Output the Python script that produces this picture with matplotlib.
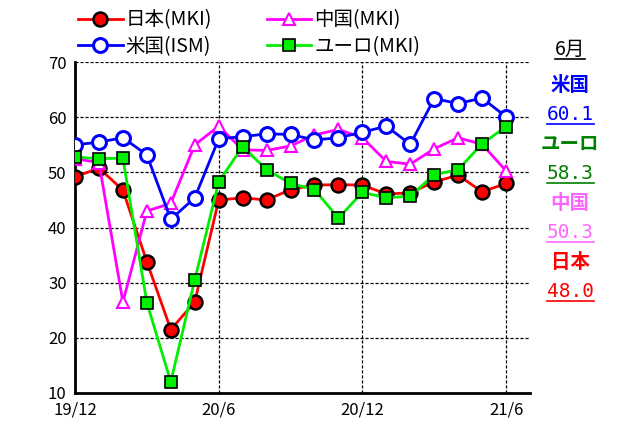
import matplotlib.pyplot as plt
from matplotlib.lines import Line2D

plt.rcParams['font.family'] = ['Noto Sans CJK JP', 'DejaVu Sans']

# services PMI, 19/12 .. 21/6 (monthly)
months = ["19/12", "20/1", "20/2", "20/3", "20/4", "20/5", "20/6", "20/7", "20/8", "20/9",
          "20/10", "20/11", "20/12", "21/1", "21/2", "21/3", "21/4", "21/5", "21/6"]
japan = [49.2, 50.8, 46.8, 33.8, 21.5, 26.5, 45.0, 45.4, 45.0, 46.9,
         47.7, 47.8, 47.7, 46.1, 46.3, 48.3, 49.5, 46.5, 48.0]
china = [52.5, 51.8, 26.5, 43.0, 44.4, 55.0, 58.4, 54.1, 54.0, 54.8,
         56.8, 57.8, 56.3, 52.0, 51.5, 54.3, 56.3, 55.1, 50.3]
usa = [55.0, 55.5, 56.3, 53.2, 41.5, 45.4, 56.1, 56.5, 57.0, 56.9,
       55.9, 56.3, 57.3, 58.4, 55.1, 63.4, 62.5, 63.5, 60.1]
euro = [52.8, 52.5, 52.6, 26.4, 12.0, 30.5, 48.3, 54.7, 50.5, 48.0,
        46.9, 41.7, 46.4, 45.4, 45.7, 49.6, 50.5, 55.2, 58.3]
tick_pos = [0, 6, 12, 18]
tick_labels = ["19/12", "20/6", "20/12", "21/6"]

side_labels = [("米国", "60.1", "#0000ff"), ("ユーロ", "58.3", "#008000"),
               ("中国", "50.3", "#ff66ff"), ("日本", "48.0", "#ff0000")]

x = list(range(len(months)))

fig = plt.figure(figsize=(6.25, 4.29), dpi=100)
ax = fig.add_axes([0.12, 0.084, 0.728, 0.771])

l_jp, = ax.plot(x, japan, '-o', color="#ff0000", lw=2, ms=10, mfc="#ff0000", mec="black", mew=1.8,
                label="日本(MKI)", zorder=3)
l_cn, = ax.plot(x, china, '-^', color="#ff00ff", lw=2, ms=9, mfc="white", mec="#ff00ff", mew=1.5,
                label="中国(MKI)", zorder=4)
l_us, = ax.plot(x, usa, '-o', color="#0000ff", lw=2, ms=10, mfc="white", mec="#0000ff", mew=2.2,
                label="米国(ISM)", zorder=5)
l_eu, = ax.plot(x, euro, '-s', color="#00ee00", lw=2, ms=8, mfc="#00ee00", mec="black", mew=1.2,
                label="ユーロ(MKI)", zorder=6)

ax.set_xlim(0, 19)
ax.set_ylim(10, 70)
ax.set_yticks([10, 20, 30, 40, 50, 60, 70])
ax.set_xticks(tick_pos)
ax.set_xticklabels(tick_labels)
ax.tick_params(length=0, labelsize=12, pad=6)
for s in ["top", "right"]:
    ax.spines[s].set_visible(False)
for s in ["left", "bottom"]:
    ax.spines[s].set_linewidth(2)
for yv in [20, 30, 40, 50, 60, 70]:
    ax.axhline(yv, color="black", lw=0.9, ls=(0, (2.5, 1.5)), zorder=1)
for xv in tick_pos[1:]:
    ax.axvline(xv, color="black", lw=0.9, ls=(0, (2.5, 1.5)), zorder=1)

fig.legend(handles=[l_jp, l_us, l_cn, l_eu], ncol=2, frameon=False, fontsize=14,
           loc="upper left", bbox_to_anchor=(0.125, 0.978), borderpad=0, borderaxespad=0,
           handlelength=2.3, columnspacing=2.8, labelspacing=0.3, handletextpad=0.15)

# right side labels with underlines
renderer = fig.canvas.get_renderer()


def underline(t, color):
    bb = t.get_window_extent(renderer=renderer).transformed(fig.transFigure.inverted())
    fig.add_artist(Line2D([bb.x0, bb.x1], [bb.y0 + 0.002, bb.y0 + 0.002], color=color, lw=1.2,
                          transform=fig.transFigure))


cx = 0.912
t = fig.text(cx, 0.885, "6月", ha="center", va="center", fontsize=14, color="black")
underline(t, "black")
y = 0.80
for name, val, col in side_labels:
    fig.text(cx, y, name, ha="center", va="center", fontsize=14, fontweight="bold", color=col)
    t = fig.text(cx, y - 0.068, val, ha="center", va="center", fontsize=14, color=col,
                 family="DejaVu Sans Mono")
    underline(t, col)
    y -= 0.1375

fig.savefig("out.png", dpi=100)
